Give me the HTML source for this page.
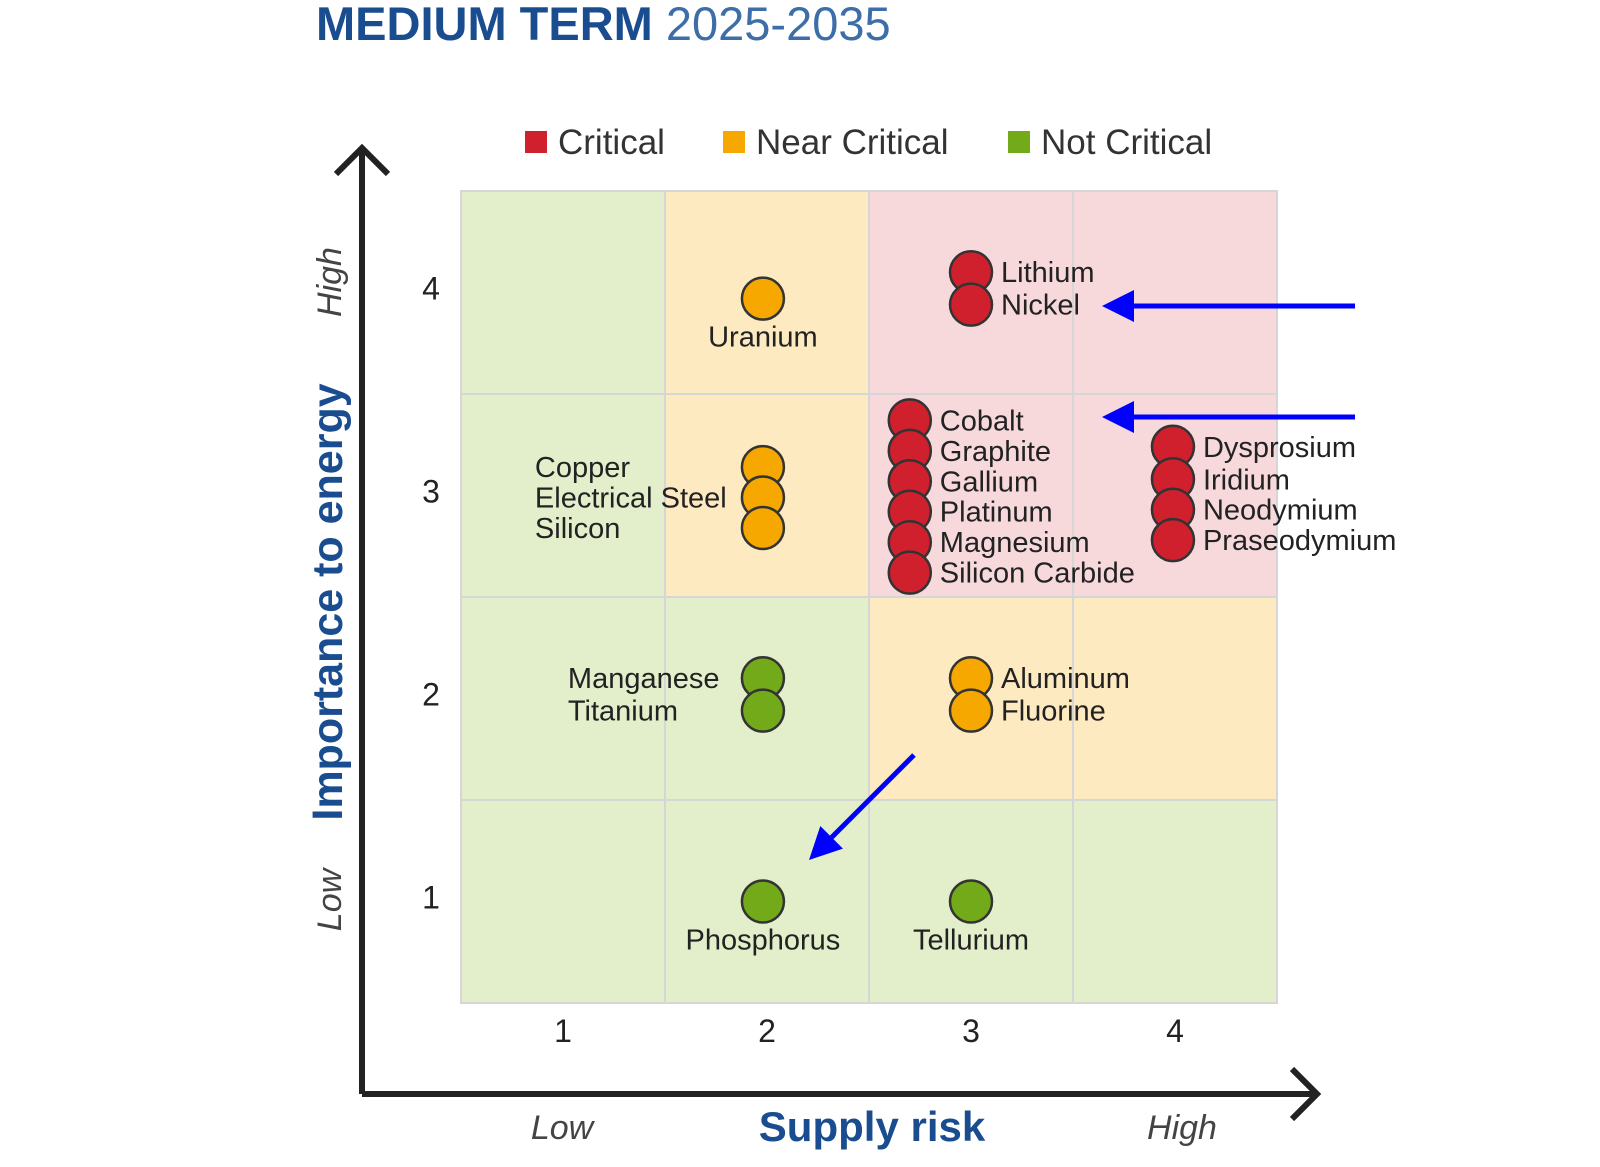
<!DOCTYPE html>
<html><head><meta charset="utf-8"><style>
body{margin:0;background:#fff;}
svg{display:block;font-family:"Liberation Sans",sans-serif;}
</style></head><body>
<svg id="chart" width="1600" height="1167" viewBox="0 0 1600 1167">
<text x="316" y="40" font-size="47" font-weight="bold" fill="#1a4d8f">MEDIUM TERM <tspan font-weight="normal" fill="#3d6ea8">2025-2035</tspan></text>
<g>
<rect x="525" y="131" width="22" height="22" fill="#d0202e"/>
<text x="558" y="154" font-size="35" fill="#333">Critical</text>
<rect x="723" y="131" width="22" height="22" fill="#f6a800"/>
<text x="756" y="154" font-size="35" fill="#333">Near Critical</text>
<rect x="1008" y="131" width="22" height="22" fill="#72aa1a"/>
<text x="1041" y="154" font-size="35" fill="#333">Not Critical</text>
</g>
<g id="cells"></g>
<g id="axes"></g>
<g id="marks"></g>
<g id="annot"></g>
</svg>
<script>
const names = ["Uranium","Lithium","Nickel","Cobalt","Graphite","Gallium","Platinum","Magnesium","Silicon Carbide","Dysprosium","Iridium","Neodymium","Praseodymium","Copper","Electrical Steel","Silicon","Manganese","Titanium","Aluminum","Fluorine","Phosphorus","Tellurium"];
const supplyRisk = [1.98,3.0,3.0,2.70,2.70,2.70,2.70,2.70,2.70,3.99,3.99,3.99,3.99,1.98,1.98,1.98,1.98,1.98,3.0,3.0,1.98,3.0];
const importance = [3.97,4.10,3.94,3.37,3.22,3.07,2.92,2.77,2.62,3.24,3.08,2.93,2.78,3.14,2.99,2.84,2.10,1.94,2.10,1.94,1.0,1.0];
const category = ["near","crit","crit","crit","crit","crit","crit","crit","crit","crit","crit","crit","crit","near","near","near","not","not","near","near","not","not"];
const labelPos = ["below","right","right","right","right","right","right","right","right","right","right","right","right","left","left","left","left","left","right","right","below","below"];
const cellGrid = [["G","Y","P","P"],["G","Y","P","P"],["G","G","Y","Y"],["G","G","G","G"]]; // rows high->low
const ticks = ["1","2","3","4"];

const NS="http://www.w3.org/2000/svg";
const X0=461,CW=204,Y0=1003,CH=203;
const xs=v=>X0+(v-0.5)*CW, ys=v=>Y0-(v-0.5)*CH;
function mk(t,a,p,txt){const e=document.createElementNS(NS,t);for(const k in a)e.setAttribute(k,a[k]);if(txt!=null)e.textContent=txt;p.appendChild(e);return e;}
const cellCol={G:"#e3eecb",Y:"#fdeac0",P:"#f7d9dc"};
const cells=document.getElementById("cells");
cellGrid.forEach((row,r)=>row.forEach((c,i)=>{
 const e=mk("rect",{x:xs(i+0.5),y:ys(4.5-r),width:CW,height:CH,fill:cellCol[c],stroke:"#d6d6d6","stroke-width":2},cells);
 
 
}));
const ax=document.getElementById("axes");
let e;
e=mk("path",{d:"M362 1094 V150 M336 174 L362 148 L388 174 M362 1094 H1317 M1292 1069 L1317 1094 L1292 1119",stroke:"#222","stroke-width":6,fill:"none"},ax);


ticks.forEach((t,i)=>{
 e=mk("text",{x:431,y:ys(i+1)+7,"font-size":32,"text-anchor":"middle",fill:"#222"},ax,t);
 
 
 e=mk("text",{x:xs(i+1),y:1042,"font-size":32,"text-anchor":"middle",fill:"#222"},ax,t);
 
 
});
e=mk("text",{x:0,y:0,"font-size":43,"font-weight":"bold",fill:"#1a4d8f","text-anchor":"middle",transform:"translate(342,602) rotate(-90)"},ax,"Importance to energy");


e=mk("text",{x:0,y:0,"font-size":34,"font-style":"italic",fill:"#444","text-anchor":"middle",transform:"translate(341,282) rotate(-90)"},ax,"High");


e=mk("text",{x:0,y:0,"font-size":34,"font-style":"italic",fill:"#444","text-anchor":"middle",transform:"translate(341,900) rotate(-90)"},ax,"Low");


e=mk("text",{x:872,y:1141,"font-size":42,"font-weight":"bold",fill:"#1a4d8f","text-anchor":"middle"},ax,"Supply risk");


e=mk("text",{x:562,y:1139,"font-size":34,"font-style":"italic",fill:"#444","text-anchor":"middle"},ax,"Low");


e=mk("text",{x:1182,y:1139,"font-size":34,"font-style":"italic",fill:"#444","text-anchor":"middle"},ax,"High");



const col={crit:"#d0202e",near:"#f6a800",not:"#72aa1a"};
const marks=document.getElementById("marks");
names.forEach((n,i)=>{
 const cx=xs(supplyRisk[i]),cy=ys(importance[i]);
 e=mk("circle",{cx:cx,cy:cy,r:21,fill:col[category[i]],stroke:"#333","stroke-width":2.5},marks);
 
 
});
names.forEach((n,i)=>{
 const cx=xs(supplyRisk[i]),cy=ys(importance[i]);
 let a={x:cx+30,y:cy+10,"font-size":29,fill:"#222"};
 if(labelPos[i]==="below"){a.x=cx;a.y=cy+48;a["text-anchor"]="middle";}
 if(labelPos[i]==="left"){a.x=cx-(importance[i]<2.5?195:228);}
 e=mk("text",a,marks,n);
 
 
});
const an=document.getElementById("annot");
[[1355,306,1102,306],[1355,417,1102,417],[914,755,809,860]].forEach(([x1,y1,x2,y2])=>{
 const dx=x2-x1,dy=y2-y1,L=Math.hypot(dx,dy),ux=dx/L,uy=dy/L;
 const bx=x2-ux*32,by=y2-uy*32;
 e=mk("line",{x1:x1,y1:y1,x2:bx,y2:by,stroke:"#0000ff","stroke-width":5},an);
 
 
 e=mk("polygon",{points:`${x2},${y2} ${bx-uy*16},${by+ux*16} ${bx+uy*16},${by-ux*16}`,fill:"#0000ff"},an);
 
 
});
</script>
</body></html>
